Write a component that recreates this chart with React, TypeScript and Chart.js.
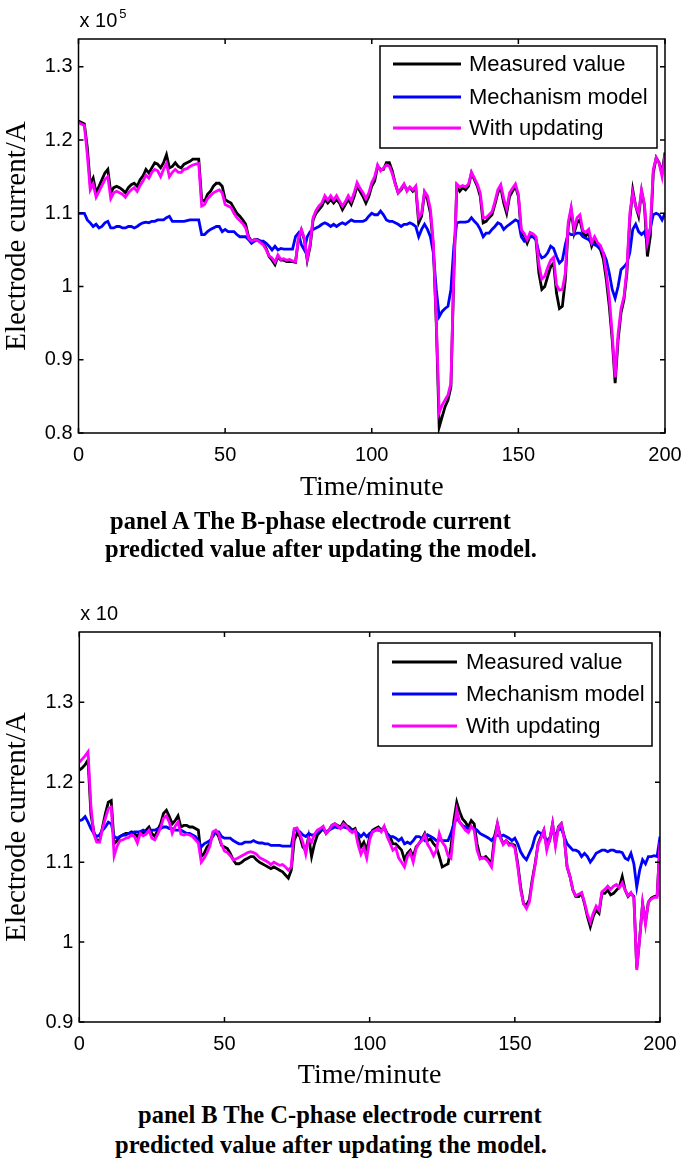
import React, { useEffect, useRef } from 'react';
import { Chart, registerables } from 'chart.js';

Chart.register(...registerables);

// ---------------- DATA ----------------
const minutes: number[] = Array.from({ length: 201 }, (_, i) => i);
const xTicks = [0, 50, 100, 150, 200];
const yTicksA = [0.8, 0.9, 1.0, 1.1, 1.2, 1.3];
const yTicksB = [0.9, 1.0, 1.1, 1.2, 1.3];
const seriesLabels = ['Measured value', 'Mechanism model', 'With updating'];
const seriesColors = ['#000000', '#0000ff', '#ff00ff'];

// Panel A (B-phase), units x 10^5 A
const measuredA = [
  1.226, 1.224, 1.222, 1.19, 1.14, 1.148, 1.128, 1.137, 1.146, 1.155,
  1.160, 1.128, 1.135, 1.137, 1.135, 1.132, 1.128, 1.135, 1.139, 1.141,
  1.137, 1.146, 1.151, 1.160, 1.155, 1.162, 1.169, 1.167, 1.162, 1.169,
  1.180, 1.162, 1.164, 1.169, 1.164, 1.162, 1.167, 1.169, 1.171, 1.174,
  1.174, 1.174, 1.119, 1.116, 1.126, 1.130, 1.137, 1.141, 1.141, 1.137,
  1.119, 1.116, 1.114, 1.107, 1.100, 1.096, 1.091, 1.085, 1.068, 1.062,
  1.064, 1.064, 1.062, 1.059, 1.052, 1.041, 1.036, 1.030, 1.041, 1.036,
  1.036, 1.034, 1.034, 1.034, 1.033, 1.064, 1.077, 1.064, 1.036, 1.055,
  1.091, 1.100, 1.105, 1.110, 1.119, 1.114, 1.119, 1.114, 1.119, 1.114,
  1.105, 1.112, 1.119, 1.112, 1.123, 1.137, 1.130, 1.123, 1.114, 1.123,
  1.137, 1.144, 1.164, 1.160, 1.160, 1.169, 1.169, 1.158, 1.141, 1.128,
  1.132, 1.139, 1.132, 1.135, 1.130, 1.135, 1.087, 1.096, 1.128, 1.119,
  1.100, 1.055, 0.950, 0.808, 0.822, 0.836, 0.845, 0.863, 1.018, 1.137,
  1.130, 1.135, 1.132, 1.137, 1.155, 1.146, 1.137, 1.123, 1.087, 1.089,
  1.094, 1.098, 1.112, 1.128, 1.135, 1.114, 1.100, 1.123, 1.130, 1.137,
  1.123, 1.073, 1.069, 1.059, 1.069, 1.069, 1.064, 1.018, 0.996, 1.000,
  1.014, 1.027, 1.032, 0.991, 0.970, 0.973, 1.009, 1.082, 1.105, 1.073,
  1.087, 1.091, 1.073, 1.069, 1.073, 1.055, 1.064, 1.055, 1.050, 1.037,
  1.009, 0.973, 0.927, 0.868, 0.927, 0.964, 0.982, 1.018, 1.091, 1.132,
  1.110, 1.096, 1.130, 1.110, 1.041, 1.069, 1.155, 1.176, 1.169, 1.155,
  1.183,
];
const mechanismA = [
  1.100, 1.100, 1.100, 1.091, 1.087, 1.082, 1.085, 1.080, 1.082, 1.087,
  1.089, 1.080, 1.080, 1.082, 1.082, 1.080, 1.080, 1.082, 1.082, 1.080,
  1.082, 1.085, 1.087, 1.088, 1.087, 1.089, 1.089, 1.091, 1.091, 1.091,
  1.094, 1.096, 1.089, 1.089, 1.089, 1.089, 1.089, 1.090, 1.091, 1.091,
  1.091, 1.091, 1.071, 1.071, 1.075, 1.078, 1.080, 1.082, 1.082, 1.075,
  1.078, 1.075, 1.075, 1.075, 1.071, 1.068, 1.068, 1.068, 1.064, 1.059,
  1.062, 1.064, 1.062, 1.062, 1.059, 1.055, 1.050, 1.055, 1.050, 1.052,
  1.051, 1.051, 1.051, 1.051, 1.068, 1.073, 1.057, 1.050, 1.068, 1.075,
  1.078, 1.080, 1.082, 1.085, 1.087, 1.085, 1.082, 1.085, 1.082, 1.085,
  1.087, 1.085, 1.088, 1.091, 1.089, 1.089, 1.089, 1.089, 1.091, 1.096,
  1.100, 1.098, 1.098, 1.103, 1.098, 1.091, 1.089, 1.089, 1.087, 1.085,
  1.082, 1.085, 1.085, 1.087, 1.085, 1.082, 1.068, 1.078, 1.085, 1.078,
  1.068, 1.046, 0.996, 0.959, 0.966, 0.970, 0.973, 0.996, 1.055, 1.087,
  1.088, 1.088, 1.088, 1.089, 1.094, 1.089, 1.085, 1.078, 1.068, 1.073,
  1.073, 1.078, 1.082, 1.087, 1.085, 1.078, 1.082, 1.085, 1.088, 1.091,
  1.089, 1.068, 1.062, 1.066, 1.068, 1.068, 1.064, 1.046, 1.039, 1.041,
  1.046, 1.055, 1.052, 1.041, 1.032, 1.036, 1.057, 1.073, 1.071, 1.071,
  1.073, 1.073, 1.068, 1.066, 1.064, 1.059, 1.057, 1.055, 1.052, 1.046,
  1.036, 1.018, 0.996, 0.984, 1.000, 1.023, 1.027, 1.032, 1.046, 1.078,
  1.085, 1.075, 1.071, 1.075, 1.060, 1.080, 1.098, 1.100, 1.098, 1.091,
  1.100,
];
const updatedA = [
  1.224, 1.222, 1.220, 1.18, 1.132, 1.140, 1.122, 1.130, 1.138, 1.146,
  1.150, 1.120, 1.128, 1.130, 1.128, 1.126, 1.122, 1.128, 1.132, 1.135,
  1.130, 1.138, 1.144, 1.152, 1.148, 1.156, 1.160, 1.158, 1.150, 1.160,
  1.168, 1.150, 1.156, 1.160, 1.156, 1.156, 1.160, 1.161, 1.164, 1.166,
  1.167, 1.168, 1.110, 1.112, 1.120, 1.124, 1.128, 1.130, 1.132, 1.128,
  1.112, 1.110, 1.108, 1.100, 1.094, 1.090, 1.086, 1.080, 1.066, 1.062,
  1.064, 1.063, 1.060, 1.057, 1.050, 1.042, 1.039, 1.033, 1.043, 1.037,
  1.038, 1.036, 1.037, 1.035, 1.034, 1.066, 1.078, 1.066, 1.038, 1.058,
  1.094, 1.104, 1.110, 1.114, 1.124, 1.118, 1.124, 1.118, 1.124, 1.117,
  1.110, 1.116, 1.124, 1.117, 1.128, 1.142, 1.134, 1.128, 1.120, 1.128,
  1.142, 1.150, 1.166, 1.158, 1.162, 1.166, 1.164, 1.154, 1.140, 1.128,
  1.134, 1.140, 1.130, 1.136, 1.132, 1.137, 1.094, 1.100, 1.130, 1.124,
  1.106, 1.060, 0.955, 0.828, 0.838, 0.845, 0.852, 0.868, 1.025, 1.140,
  1.136, 1.138, 1.136, 1.140, 1.156, 1.148, 1.140, 1.128, 1.094, 1.094,
  1.098, 1.102, 1.116, 1.132, 1.139, 1.120, 1.106, 1.128, 1.134, 1.140,
  1.126, 1.078, 1.072, 1.064, 1.074, 1.072, 1.068, 1.030, 1.010, 1.014,
  1.026, 1.036, 1.040, 1.002, 0.995, 0.996, 1.018, 1.088, 1.108, 1.078,
  1.094, 1.098, 1.076, 1.074, 1.078, 1.060, 1.068, 1.060, 1.056, 1.045,
  1.018, 0.985, 0.935, 0.876, 0.935, 0.970, 0.986, 1.024, 1.100, 1.128,
  1.110, 1.100, 1.132, 1.112, 1.060, 1.080, 1.160, 1.176, 1.168, 1.150,
  1.180,
];

// Panel B (C-phase)
const measuredB = [
  1.215, 1.218, 1.222, 1.228, 1.16, 1.138, 1.127, 1.127, 1.144, 1.161,
  1.175, 1.177, 1.123, 1.127, 1.132, 1.134, 1.136, 1.136, 1.138, 1.136,
  1.132, 1.138, 1.136, 1.140, 1.144, 1.136, 1.132, 1.140, 1.148, 1.161,
  1.165, 1.157, 1.148, 1.152, 1.158, 1.144, 1.146, 1.146, 1.144, 1.144,
  1.142, 1.140, 1.107, 1.111, 1.119, 1.123, 1.136, 1.138, 1.132, 1.121,
  1.119, 1.117, 1.111, 1.103, 1.098, 1.098, 1.100, 1.103, 1.105, 1.107,
  1.107, 1.103, 1.100, 1.098, 1.096, 1.094, 1.092, 1.094, 1.092, 1.090,
  1.088, 1.084, 1.080, 1.090, 1.127, 1.136, 1.132, 1.119, 1.115, 1.132,
  1.107, 1.123, 1.134, 1.138, 1.142, 1.136, 1.140, 1.146, 1.148, 1.146,
  1.144, 1.150, 1.146, 1.144, 1.140, 1.142, 1.132, 1.119, 1.125, 1.115,
  1.132, 1.140, 1.142, 1.144, 1.140, 1.144, 1.136, 1.132, 1.123, 1.123,
  1.119, 1.115, 1.103, 1.111, 1.115, 1.107, 1.119, 1.123, 1.129, 1.136,
  1.127, 1.129, 1.123, 1.119, 1.107, 1.094, 1.096, 1.098, 1.119, 1.152,
  1.175, 1.163, 1.154, 1.150, 1.144, 1.152, 1.148, 1.123, 1.107, 1.105,
  1.107, 1.103, 1.098, 1.132, 1.148, 1.132, 1.123, 1.127, 1.123, 1.123,
  1.121, 1.098, 1.069, 1.048, 1.046, 1.053, 1.078, 1.098, 1.123, 1.132,
  1.140, 1.119, 1.127, 1.148, 1.123, 1.144, 1.148, 1.132, 1.094, 1.082,
  1.065, 1.057, 1.057, 1.061, 1.048, 1.032, 1.019, 1.032, 1.040, 1.036,
  1.061, 1.061, 1.065, 1.059, 1.061, 1.065, 1.069, 1.082, 1.065, 1.057,
  1.061, 1.057, 0.967, 1.005, 1.048, 1.025, 1.050, 1.055, 1.057, 1.058,
  1.125,
];
const mechanismB = [
  1.152, 1.153, 1.157, 1.150, 1.142, 1.136, 1.132, 1.134, 1.140, 1.144,
  1.150, 1.148, 1.132, 1.130, 1.132, 1.134, 1.134, 1.136, 1.136, 1.138,
  1.138, 1.138, 1.140, 1.138, 1.138, 1.140, 1.140, 1.142, 1.142, 1.144,
  1.144, 1.142, 1.142, 1.140, 1.140, 1.140, 1.138, 1.136, 1.136, 1.134,
  1.132, 1.127, 1.119, 1.123, 1.125, 1.127, 1.132, 1.138, 1.138, 1.132,
  1.130, 1.130, 1.130, 1.127, 1.125, 1.123, 1.123, 1.125, 1.125, 1.125,
  1.127, 1.125, 1.124, 1.124, 1.123, 1.123, 1.121, 1.121, 1.121, 1.121,
  1.120, 1.120, 1.120, 1.120, 1.140, 1.140, 1.138, 1.134, 1.132, 1.136,
  1.134, 1.134, 1.138, 1.140, 1.142, 1.138, 1.140, 1.142, 1.144, 1.143,
  1.143, 1.144, 1.143, 1.142, 1.140, 1.138, 1.136, 1.132, 1.136, 1.132,
  1.136, 1.138, 1.140, 1.140, 1.139, 1.142, 1.136, 1.132, 1.132, 1.130,
  1.127, 1.130, 1.123, 1.125, 1.123, 1.127, 1.132, 1.132, 1.130, 1.127,
  1.134, 1.132, 1.130, 1.127, 1.128, 1.127, 1.127, 1.127, 1.136, 1.148,
  1.155, 1.150, 1.146, 1.144, 1.142, 1.144, 1.142, 1.140, 1.136, 1.134,
  1.132, 1.130, 1.127, 1.132, 1.134, 1.132, 1.134, 1.132, 1.130, 1.127,
  1.130, 1.123, 1.113, 1.107, 1.103, 1.111, 1.119, 1.132, 1.138, 1.136,
  1.132, 1.127, 1.130, 1.140, 1.134, 1.140, 1.142, 1.132, 1.123, 1.119,
  1.115, 1.115, 1.113, 1.107, 1.111, 1.107, 1.100, 1.105, 1.111, 1.113,
  1.115, 1.115, 1.113, 1.115, 1.115, 1.113, 1.113, 1.112, 1.105, 1.103,
  1.111, 1.098, 1.069, 1.090, 1.103, 1.098, 1.107, 1.107, 1.108, 1.107,
  1.132,
];
const updatedB = [
  1.225, 1.229, 1.233, 1.238, 1.17, 1.135, 1.125, 1.125, 1.142, 1.155,
  1.167, 1.169, 1.108, 1.120, 1.127, 1.128, 1.130, 1.131, 1.134, 1.132,
  1.124, 1.136, 1.133, 1.135, 1.140, 1.130, 1.128, 1.135, 1.143, 1.155,
  1.158, 1.150, 1.136, 1.145, 1.150, 1.135, 1.134, 1.135, 1.134, 1.132,
  1.128, 1.124, 1.100, 1.105, 1.112, 1.120, 1.138, 1.140, 1.135, 1.122,
  1.114, 1.112, 1.108, 1.103, 1.104, 1.106, 1.108, 1.110, 1.112, 1.113,
  1.112, 1.110, 1.106, 1.104, 1.102, 1.100, 1.097, 1.100, 1.098, 1.096,
  1.097, 1.094, 1.090, 1.094, 1.142, 1.143, 1.135, 1.125, 1.110, 1.130,
  1.125, 1.135, 1.140, 1.142, 1.145, 1.136, 1.140, 1.146, 1.148, 1.145,
  1.142, 1.148, 1.145, 1.140, 1.137, 1.140, 1.122, 1.110, 1.118, 1.105,
  1.128, 1.138, 1.140, 1.142, 1.138, 1.145, 1.132, 1.124, 1.115, 1.118,
  1.105, 1.100, 1.094, 1.107, 1.112, 1.100, 1.117, 1.124, 1.127, 1.134,
  1.122, 1.116, 1.108, 1.115, 1.136, 1.125, 1.120, 1.108, 1.105, 1.140,
  1.165, 1.150, 1.145, 1.140, 1.137, 1.145, 1.140, 1.115, 1.104, 1.106,
  1.104, 1.100, 1.094, 1.125, 1.148, 1.130, 1.122, 1.127, 1.121, 1.122,
  1.118, 1.095, 1.065, 1.048, 1.042, 1.050, 1.075, 1.097, 1.122, 1.130,
  1.140, 1.115, 1.128, 1.148, 1.120, 1.143, 1.148, 1.130, 1.095, 1.082,
  1.065, 1.058, 1.060, 1.062, 1.050, 1.035, 1.025, 1.036, 1.045, 1.040,
  1.063, 1.066, 1.070, 1.066, 1.070, 1.072, 1.068, 1.074, 1.065, 1.058,
  1.062, 1.055, 0.965, 1.005, 1.048, 1.022, 1.050, 1.054, 1.056, 1.056,
  1.125,
];

// ---------------- STYLE / LAYOUT ----------------
const SANS = '"Liberation Sans", Arial, Helvetica, sans-serif';
const SERIF = '"Liberation Serif", "Times New Roman", serif';

type PanelSpec = {
  id: string;
  top: number;
  height: number;
  series: number[][];
  yMin: number;
  yMax: number;
  yTicks: number[];
  padTop: number;
  padRight: number;
  yAxisWidth: number;
  xAxisHeight: number;
  xTitlePad: number;
  exponent: string;
  legend: {
    boxL: number; boxR: number; boxT: number; boxB: number;
    rows: number[]; lineX0: number; lineX1: number; textX: number;
  };
};

const fmtY = (v: number) => {
  const s = Number(v).toFixed(1);
  return s.endsWith('.0') ? s.slice(0, -2) : s;
};

const matlabPlugin = {
  id: 'matlabFrame',
  afterDatasetsDraw(chart: any, _args: any, opts: any) {
    const { ctx, chartArea: ca, scales } = chart;
    const xs = scales.x;
    const ys = scales.y;
    ctx.save();
    ctx.strokeStyle = '#000';
    ctx.lineWidth = 1.5;
    // inward ticks on all four sides
    const tl = 5;
    ctx.beginPath();
    for (const v of xTicks) {
      const px = xs.getPixelForValue(v);
      ctx.moveTo(px, ca.bottom);
      ctx.lineTo(px, ca.bottom - tl);
      ctx.moveTo(px, ca.top);
      ctx.lineTo(px, ca.top + tl);
    }
    for (const v of opts.yTicks) {
      const py = ys.getPixelForValue(v);
      ctx.moveTo(ca.left, py);
      ctx.lineTo(ca.left + tl, py);
      ctx.moveTo(ca.right, py);
      ctx.lineTo(ca.right - tl, py);
    }
    ctx.stroke();
    // box
    ctx.strokeRect(ca.left, ca.top, ca.right - ca.left, ca.bottom - ca.top);

    // legend
    const L = opts.legend;
    const bx0 = ca.right + L.boxL;
    const bx1 = ca.right + L.boxR;
    const by0 = ca.top + L.boxT;
    const by1 = ca.top + L.boxB;
    ctx.fillStyle = '#fff';
    ctx.fillRect(bx0, by0, bx1 - bx0, by1 - by0);
    ctx.lineWidth = 1.5;
    ctx.strokeRect(bx0, by0, bx1 - bx0, by1 - by0);
    ctx.font = `22px ${SANS}`;
    ctx.textBaseline = 'middle';
    ctx.textAlign = 'left';
    chart.data.datasets.forEach((ds: any, i: number) => {
      const y = ca.top + L.rows[i];
      ctx.strokeStyle = ds.borderColor;
      ctx.lineWidth = 3;
      ctx.beginPath();
      ctx.moveTo(ca.right + L.lineX0, y);
      ctx.lineTo(ca.right + L.lineX1, y);
      ctx.stroke();
      ctx.fillStyle = '#000';
      ctx.fillText(ds.label, ca.right + L.textX, y + 1);
    });

    // exponent label above the axis
    ctx.fillStyle = '#000';
    ctx.textBaseline = 'alphabetic';
    ctx.font = `20px ${SANS}`;
    ctx.fillText('x 10', ca.left + 1, ca.top - 12);
    if (opts.exponent) {
      const w = ctx.measureText('x 10').width;
      ctx.font = `13px ${SANS}`;
      ctx.fillText(opts.exponent, ca.left + 3 + w, ca.top - 21);
    }
    ctx.restore();
  },
};

const panels: PanelSpec[] = [
  {
    id: 'A',
    top: 0,
    height: 510,
    series: [measuredA, mechanismA, updatedA],
    yMin: 0.8,
    yMax: 1.338,
    yTicks: yTicksA,
    padTop: 39,
    padRight: 20,
    yAxisWidth: 78.5,
    xAxisHeight: 77,
    xTitlePad: 6,
    exponent: '5',
    legend: { boxL: -285, boxR: -8, boxT: 7, boxB: 109, rows: [25, 58, 89], lineX0: -272, lineX1: -204, textX: -196 },
  },
  {
    id: 'B',
    top: 590,
    height: 510,
    series: [measuredB, mechanismB, updatedB],
    yMin: 0.9,
    yMax: 1.388,
    yTicks: yTicksB,
    padTop: 42,
    padRight: 25,
    yAxisWidth: 79.3,
    xAxisHeight: 78,
    xTitlePad: 8,
    exponent: '',
    legend: { boxL: -282, boxR: -8, boxT: 11, boxB: 114, rows: [30, 62, 94], lineX0: -268, lineX1: -203, textX: -194 },
  },
];

function Panel({ spec }: { spec: PanelSpec }) {
  const ref = useRef<HTMLCanvasElement | null>(null);
  useEffect(() => {
    if (!ref.current) return;
    const order = [3, 2, 1];
    const chart = new Chart(ref.current, {
      type: 'line',
      data: {
        datasets: spec.series.map((vals, i) => ({
          label: seriesLabels[i],
          data: vals.map((y, j) => ({ x: minutes[j], y })),
          borderColor: seriesColors[i],
          backgroundColor: seriesColors[i],
          borderWidth: 2.8,
          pointRadius: 0,
          tension: 0,
          fill: false,
          order: order[i],
        })),
      },
      options: {
        responsive: false,
        animation: false,
        devicePixelRatio: 1,
        layout: { padding: { left: 0, top: spec.padTop, right: spec.padRight, bottom: 0 } },
        plugins: {
          legend: { display: false },
          tooltip: { enabled: false },
          matlabFrame: { yTicks: spec.yTicks, legend: spec.legend, exponent: spec.exponent },
        } as any,
        scales: {
          x: {
            type: 'linear',
            min: 0,
            max: 200,
            afterBuildTicks: (s: any) => {
              s.ticks = xTicks.map((v) => ({ value: v }));
            },
            afterFit: (s: any) => {
              s.height = spec.xAxisHeight;
              s.paddingLeft = 0;
              s.paddingRight = 0;
            },
            grid: { display: false, drawTicks: false },
            border: { display: false },
            ticks: {
              color: '#000',
              font: { family: SANS, size: 20 },
              padding: 10,
              maxRotation: 0,
              autoSkip: false,
              callback: (v: any) => String(v),
            },
            title: {
              display: true,
              text: 'Time/minute',
              color: '#000',
              font: { family: SERIF, size: 28 },
              padding: { top: 0, bottom: spec.xTitlePad },
            },
          },
          y: {
            type: 'linear',
            min: spec.yMin,
            max: spec.yMax,
            afterBuildTicks: (s: any) => {
              s.ticks = spec.yTicks.map((v) => ({ value: v }));
            },
            afterFit: (s: any) => {
              s.width = spec.yAxisWidth;
              s.paddingTop = 0;
              s.paddingBottom = 0;
            },
            grid: { display: false, drawTicks: false },
            border: { display: false },
            ticks: {
              color: '#000',
              font: { family: SANS, size: 20 },
              padding: 6,
              autoSkip: false,
              callback: (v: any) => fmtY(v),
            },
            title: {
              display: true,
              text: 'Electrode current/A',
              color: '#000',
              font: { family: SERIF, size: 29 },
              padding: { top: 0, bottom: 0 },
            },
          },
        },
      } as any,
      plugins: [matlabPlugin],
    });
    return () => chart.destroy();
  }, [spec]);
  return (
    <canvas
      ref={ref}
      width={685}
      height={spec.height}
      style={{ position: 'absolute', left: 0, top: spec.top, width: 685, height: spec.height }}
    />
  );
}

const captionStyle: React.CSSProperties = {
  position: 'absolute',
  fontFamily: SERIF,
  fontWeight: 'bold',
  fontSize: 24.5,
  lineHeight: '24px',
  whiteSpace: 'pre',
  color: '#000',
};

export default function App() {
  return (
    <div style={{ position: 'absolute', left: 0, top: 0, width: 685, height: 1165, background: '#fff', overflow: 'hidden' }}>
      <Panel spec={panels[0]} />
      <div style={{ ...captionStyle, left: 110, top: 509 }}>panel A The B-phase electrode current</div>
      <div style={{ ...captionStyle, left: 105, top: 537 }}>predicted value after updating the model.</div>
      <Panel spec={panels[1]} />
      <div style={{ ...captionStyle, left: 138, top: 1103 }}>panel B The C-phase electrode current</div>
      <div style={{ ...captionStyle, left: 115, top: 1133 }}>predicted value after updating the model.</div>
    </div>
  );
}
